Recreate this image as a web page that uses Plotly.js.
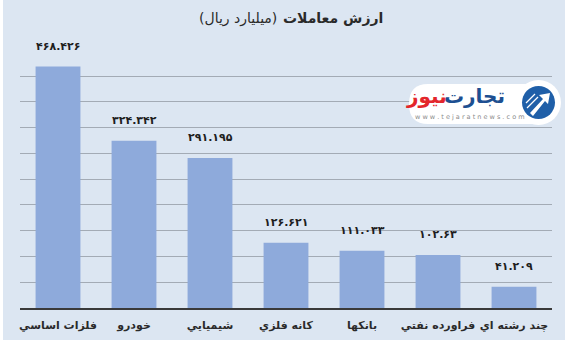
<!DOCTYPE html>
<html>
<head>
<meta charset="utf-8">
<script src="https://cdn.plot.ly/plotly-3.0.1.min.js"></script>
<style>html,body{margin:0;padding:0;background:#fff;}#chart{width:571px;height:340px;}</style>
</head>
<body>
<div id="chart"></div>
<script>
var categories = ["فلزات اساسي", "خودرو", "شيميايي", "كانه فلزي", "بانكها", "فراورده نفتي", "چند رشته اي"];
var values = [468.426, 324.342, 291.195, 126.621, 111.033, 102.63, 41.209];
var titleMain = "ارزش معاملات";
var titleUnit = "(ميليارد ريال)";

function toPersianDigits(v) {
  var map = "۰۱۲۳۴۵۶۷۸۹";
  return String(v).replace(/[0-9]/g, function (d) { return map[+d]; });
}

var bg = "#dce6f2";
var fontFam = "Tahoma, 'DejaVu Sans', sans-serif";

var trace = {
  type: "bar",
  x: categories,
  y: values,
  marker: {color: "#8eaadb"},
  width: 0.59,
  hoverinfo: "none"
};

function px(x) { return (x - 20) / 532; }
function py(y) { return (308 - y) / 258; }

var annotations = categories.map(function (c, i) {
  return {
    x: c, y: values[i], xref: "x", yref: "y",
    text: toPersianDigits(values[i]),
    showarrow: false, xanchor: "center", yanchor: "bottom", yshift: 12,
    font: {family: fontFam, size: 11, color: "#1e1e1e", weight: "bold"}
  };
});

// title (two parts)
annotations.push({
  xref: "paper", yref: "paper", x: px(333), y: py(18), xanchor: "center", yanchor: "middle",
  text: titleMain, showarrow: false,
  font: {family: fontFam, size: 14, color: "#2a2a2a", weight: "bold"}
});
annotations.push({
  xref: "paper", yref: "paper", x: px(238), y: py(18), xanchor: "center", yanchor: "middle",
  text: titleUnit, showarrow: false,
  font: {family: fontFam, size: 14, color: "#2a2a2a"}
});

// logo texts
annotations.push({
  xref: "paper", yref: "paper", x: px(507), y: py(96), xanchor: "right", yanchor: "middle",
  text: "تجارت", showarrow: false,
  font: {family: fontFam, size: 20, color: "#1d4f91", weight: "bold"}
});
annotations.push({
  xref: "paper", yref: "paper", x: px(449), y: py(96), xanchor: "right", yanchor: "middle",
  text: "نیوز", showarrow: false,
  font: {family: fontFam, size: 20, color: "#e3262b", weight: "bold"}
});
annotations.push({
  xref: "paper", yref: "paper", x: px(413), y: py(117), xanchor: "left", yanchor: "middle",
  text: "w w w . t e j a r a t n e w s . c o m", showarrow: false,
  font: {family: "'DejaVu Sans', sans-serif", size: 6.5, color: "#8a8a8a"}
});

var shapes = [
  {type: "rect", xref: "paper", yref: "paper", x0: px(0), x1: px(3), y0: py(340), y1: py(0), fillcolor: "#ffffff", line: {width: 0}, layer: "below"},
  {type: "rect", xref: "paper", yref: "paper", x0: px(565), x1: px(571), y0: py(340), y1: py(0), fillcolor: "#ffffff", line: {width: 0}, layer: "below"},
  {type: "path", xref: "paper", yref: "paper",
   path: "M " + px(428) + "," + py(84) + " L " + px(535) + "," + py(84) + " L " + px(535) + "," + py(124) + " L " + px(428) + "," + py(124) + " Q " + px(409) + "," + py(124) + " " + px(409) + "," + py(104) + " Q " + px(409) + "," + py(84) + " " + px(428) + "," + py(84) + " Z",
   fillcolor: "#ffffff", line: {width: 0}},
  {type: "circle", xref: "paper", yref: "paper", x0: px(516), x1: px(561), y0: py(80), y1: py(125), fillcolor: "#ffffff", line: {width: 0}},
  {type: "circle", xref: "paper", yref: "paper", x0: px(522), x1: px(555), y0: py(86), y1: py(119), fillcolor: "#1f5fa8", line: {width: 0}},
  {type: "path", xref: "paper", yref: "paper",
   path: "M " + px(530) + "," + py(113) + " L " + px(543) + "," + py(99) + " L " + px(539) + "," + py(95) + " L " + px(550) + "," + py(93) + " L " + px(548) + "," + py(104) + " L " + px(545) + "," + py(101) + " L " + px(533) + "," + py(116) + " Z",
   fillcolor: "#ffffff", line: {width: 0}},
  {type: "line", xref: "paper", yref: "paper", x0: px(526), x1: px(535), y0: py(103), y1: py(94), line: {color: "#ffffff", width: 1.2}},
  {type: "line", xref: "paper", yref: "paper", x0: px(527), x1: px(538), y0: py(108), y1: py(97), line: {color: "#ffffff", width: 1.2}}
];

var layout = {
  width: 571, height: 340,
  margin: {l: 20, r: 19, t: 50, b: 32, pad: 0},
  paper_bgcolor: bg, plot_bgcolor: bg,
  showlegend: false,
  font: {family: fontFam},
  xaxis: {
    type: "category", showgrid: false, zeroline: false,
    showline: true, linecolor: "#3a3a3a", linewidth: 2,
    ticks: "", tickangle: 0, automargin: false, ticklabelstandoff: 6,
    tickfont: {family: fontFam, size: 11, color: "#2a2a2a", weight: "bold"},
    fixedrange: true
  },
  yaxis: {
    range: [0, 500.5], dtick: 50, tick0: 0, showticklabels: false,
    showgrid: true, gridcolor: "#a3abb5", gridwidth: 1,
    zeroline: false, showline: false, ticks: "", fixedrange: true
  },
  annotations: annotations,
  shapes: shapes,
  bargap: 0.41
};

Plotly.newPlot("chart", [trace], layout, {displayModeBar: false, staticPlot: true});
</script>
</body>
</html>
